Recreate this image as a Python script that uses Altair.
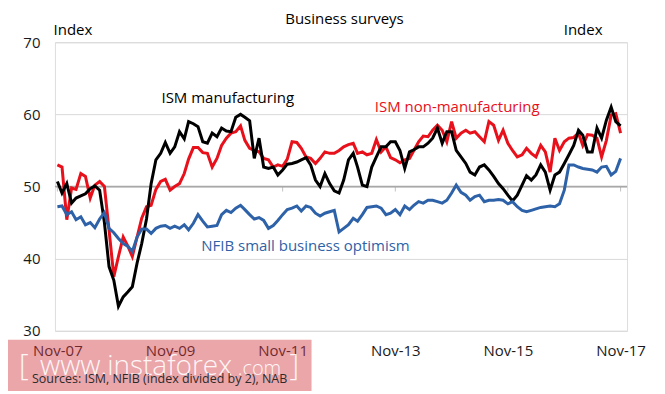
import altair as alt
import pandas as pd

# ---------------- data (monthly, Nov-07 .. Nov-17) ----------------
start_month = "2007-11-01"

ism_mfg = [
    50.7, 49.1, 50.4, 47.7, 48.4, 48.7, 49.0, 49.7, 50.1, 49.5,
    45.0, 38.9, 37.0, 33.4, 34.7, 35.4, 36.1, 39.4, 42.1, 45.5,
    50.4, 53.7, 54.6, 56.1, 54.6, 55.5, 57.6, 56.6, 59.0, 58.7,
    58.3, 56.2, 56.0, 57.4, 56.9, 58.1, 57.7, 57.6, 59.6, 60.0,
    59.6, 59.1, 53.9, 56.7, 52.7, 52.5, 52.7, 51.6, 52.3, 53.1,
    53.2, 53.4, 53.7, 54.0, 53.0, 50.9, 50.0, 51.8, 50.4, 49.4,
    49.1, 50.9, 53.7, 54.6, 52.7, 50.2, 50.0, 52.7, 54.1, 55.5,
    55.5, 56.2, 56.2, 55.0, 52.5, 54.8, 55.1, 55.5, 55.5, 56.0,
    56.7, 58.1, 56.0, 57.6, 57.6, 55.0, 54.1, 53.2, 52.0, 51.6,
    52.7, 53.0, 52.3, 51.4, 50.4, 49.7, 48.8, 48.0, 48.8, 50.2,
    51.5, 50.9, 51.6, 53.0, 52.0, 49.5, 51.6, 52.0, 53.2, 54.4,
    55.7, 57.8, 57.1, 54.8, 54.8, 58.1, 56.7, 59.2, 61.0, 59.0,
    58.4,
]

ism_nonmfg = [
    53.0, 52.7, 45.4, 49.8, 49.6, 51.8, 51.4, 48.4, 50.2, 50.7,
    50.0, 44.0, 37.5, 40.3, 43.0, 41.7, 40.3, 43.0, 45.6, 47.2,
    47.4, 49.6, 50.7, 51.0, 49.5, 50.0, 50.4, 51.8, 53.8, 55.4,
    55.4, 54.7, 54.6, 52.7, 53.9, 55.7, 56.7, 57.4, 57.6, 58.4,
    56.4, 55.3, 55.0, 54.8, 53.9, 53.7, 52.7, 53.0, 52.8, 53.8,
    56.2, 56.1, 55.3, 54.1, 53.9, 53.2, 53.9, 54.8, 54.6, 54.6,
    55.0, 55.5, 55.8, 56.0, 54.6, 54.8, 54.4, 54.6, 56.5, 54.8,
    55.5, 54.0, 53.7, 53.3, 53.7, 53.9, 55.0, 56.2, 57.0, 56.9,
    57.8, 58.5, 57.8, 56.2, 59.0, 56.7, 57.4, 57.8, 57.4, 57.6,
    56.9, 56.2, 59.0, 58.5, 56.4, 57.8, 56.0, 55.0, 54.1, 54.4,
    55.3, 54.6, 54.1, 55.7, 54.8, 52.0, 56.7, 55.0, 56.2, 56.7,
    56.8, 57.4, 55.7, 57.2, 57.1, 56.7, 54.1, 56.4, 59.9, 60.1,
    57.4,
]

nfib_half = [
    47.2, 47.3, 46.1, 46.5, 45.4, 45.8, 44.7, 45.0, 44.3, 45.5,
    46.4, 44.2, 43.6, 42.8, 42.1, 41.7, 41.0, 43.0, 44.1, 44.1,
    43.5, 44.2, 44.5, 44.6, 44.2, 44.5, 44.2, 44.7, 44.0, 44.9,
    46.1, 45.2, 44.4, 44.5, 44.6, 46.1, 46.7, 46.4, 47.0, 47.4,
    46.8, 46.1, 45.5, 45.7, 45.3, 44.2, 44.6, 45.3, 46.1, 46.8,
    47.0, 47.3, 46.6, 47.3, 47.1, 46.3, 45.9, 46.3, 46.5, 46.7,
    43.7, 44.2, 44.7, 45.6, 45.2, 46.1, 47.1, 47.2, 47.3, 47.0,
    46.1, 46.3, 46.8, 46.1, 47.3, 46.8, 47.4, 47.9, 47.7, 48.1,
    48.1, 47.9, 47.7, 48.1, 49.1, 50.2, 49.2, 48.8, 48.1, 48.6,
    48.8, 47.9, 48.1, 48.1, 48.2, 48.1, 47.6, 47.9, 47.2, 46.7,
    46.5, 46.7, 46.9, 47.1, 47.2, 47.3, 47.2, 47.6, 49.5, 53.0,
    53.0, 52.7, 52.5, 52.4, 52.3, 52.0, 52.7, 52.8, 51.6, 52.1,
    53.9,
]

tick_years = [2007, 2009, 2011, 2013, 2015, 2017]
y_ticks = [30, 40, 50, 60, 70]

series_labels = ["ISM manufacturing", "ISM non-manufacturing", "NFIB small business optimism"]
label_dates = ["2010-11-10", "2014-12-07", "2012-03-28"]
label_values = [62.25, 61.0, 41.8]

title_text = "Business surveys"
unit_text = "Index"
source_text = "Sources: ISM, NFIB (index divided by 2), NAB"

# ---------------- styling ----------------
FONT = "Open Sans"
W, H = 573, 289
C_MFG, C_NON, C_NFIB = "#000000", "#e8101a", "#2e62a8"

months = pd.date_range(start_month, periods=len(ism_mfg), freq="MS")


def series_df(vals):
    return pd.DataFrame({"date": months, "value": vals})


x_scale = alt.Scale(domain=[alt.DateTime(year=2007, month=10, date=16),
                            alt.DateTime(year=2017, month=12, date=13)])
y_scale = alt.Scale(domain=[30, 70])

x_enc = alt.X(
    "date:T", scale=x_scale, title=None,
    axis=alt.Axis(values=[alt.DateTime(year=y, month=11, date=1) for y in tick_years],
                  format="%b-%y", labelFont=FONT, labelFontSize=15, labelColor="#1a1a1a",
                  labelPadding=13, ticks=False, domain=False, grid=False,
                  labelOverlap=False, labelFlush=False),
)
y_enc = alt.Y(
    "value:Q", scale=y_scale, title=None,
    axis=alt.Axis(values=y_ticks, labelFont=FONT, labelFontSize=15, labelColor="#1a1a1a",
                  labelPadding=15, ticks=False, domain=False, grid=True,
                  gridColor="#d9d9d9", gridWidth=1),
)

base_line = alt.Chart(pd.DataFrame({"value": [50]})).mark_rule(
    color="#a8a8a8", strokeWidth=1.5
).encode(y=y_enc)

ticks = alt.Chart(pd.DataFrame({
    "date": pd.to_datetime([f"{y}-11-01" for y in tick_years]),
    "value": [50] * len(tick_years),
})).mark_tick(orient="vertical", size=5, thickness=1, yOffset=2.5, color="#a8a8a8").encode(
    x=x_enc, y=y_enc)

line_non = alt.Chart(series_df(ism_nonmfg)).mark_line(color=C_NON, strokeWidth=3).encode(x=x_enc, y=y_enc)
line_mfg = alt.Chart(series_df(ism_mfg)).mark_line(color=C_MFG, strokeWidth=3).encode(x=x_enc, y=y_enc)
line_nfib = alt.Chart(series_df(nfib_half)).mark_line(color=C_NFIB, strokeWidth=3).encode(x=x_enc, y=y_enc)

lab_layers = []
for txt, d, v, col in zip(series_labels, label_dates, label_values, [C_MFG, C_NON, C_NFIB]):
    lab_layers.append(
        alt.Chart(pd.DataFrame({"date": pd.to_datetime([d]), "value": [v], "t": [txt]}))
        .mark_text(font=FONT, fontSize=15, color=col, align="center", baseline="middle")
        .encode(x=x_enc, y=y_enc, text="t:N")
    )


def px_text(txt, x, y, size=15, color="#000000", align="center", baseline="middle",
            weight="normal", opacity=1.0):
    return alt.Chart(pd.DataFrame({"t": [txt]})).mark_text(
        font=FONT, fontSize=size, color=color, align=align, baseline=baseline,
        fontWeight=weight, opacity=opacity
    ).encode(x=alt.value(x), y=alt.value(y), text="t:N")


title = px_text(title_text, 290, -23)
idx_left = px_text(unit_text, 18, -12)
idx_right = px_text(unit_text, 529, -12)

# watermark box
wm_rect = alt.Chart(pd.DataFrame({"a": [0]})).mark_rect(
    color="#d23a42", opacity=0.45
).encode(x=alt.value(-47), x2=alt.value(257), y=alt.value(298), y2=alt.value(352))

wm1 = px_text("[", -36, 333, size=30, color="white", align="left", baseline="alphabetic",
              weight=300, opacity=0.9)
wm2 = px_text("www.instaforex", -15, 333, size=28, color="white", align="left",
              baseline="alphabetic", weight=300, opacity=0.9)
wm3 = px_text(".com", 183, 333, size=20, color="white", align="left",
              baseline="alphabetic", weight=300, opacity=0.9)
wm4 = px_text("]", 235, 333, size=30, color="white", align="left", baseline="alphabetic",
              weight=300, opacity=0.9)
src = px_text(source_text, -23, 337, size=12.5, color="#2b2b2b", align="left")

chart = alt.layer(
    base_line, ticks, line_non, line_mfg, line_nfib, *lab_layers,
    title, idx_left, idx_right, wm_rect, wm1, wm2, wm3, wm4, src,
).properties(
    width=W, height=H,
    autosize=alt.AutoSizeParams(type="none"),
    padding={"left": 47, "top": 34, "right": 30, "bottom": 60},
).configure_view(strokeWidth=0).configure(background="white")

chart.save("out.html", embed_options={"renderer": "svg", "actions": False})
